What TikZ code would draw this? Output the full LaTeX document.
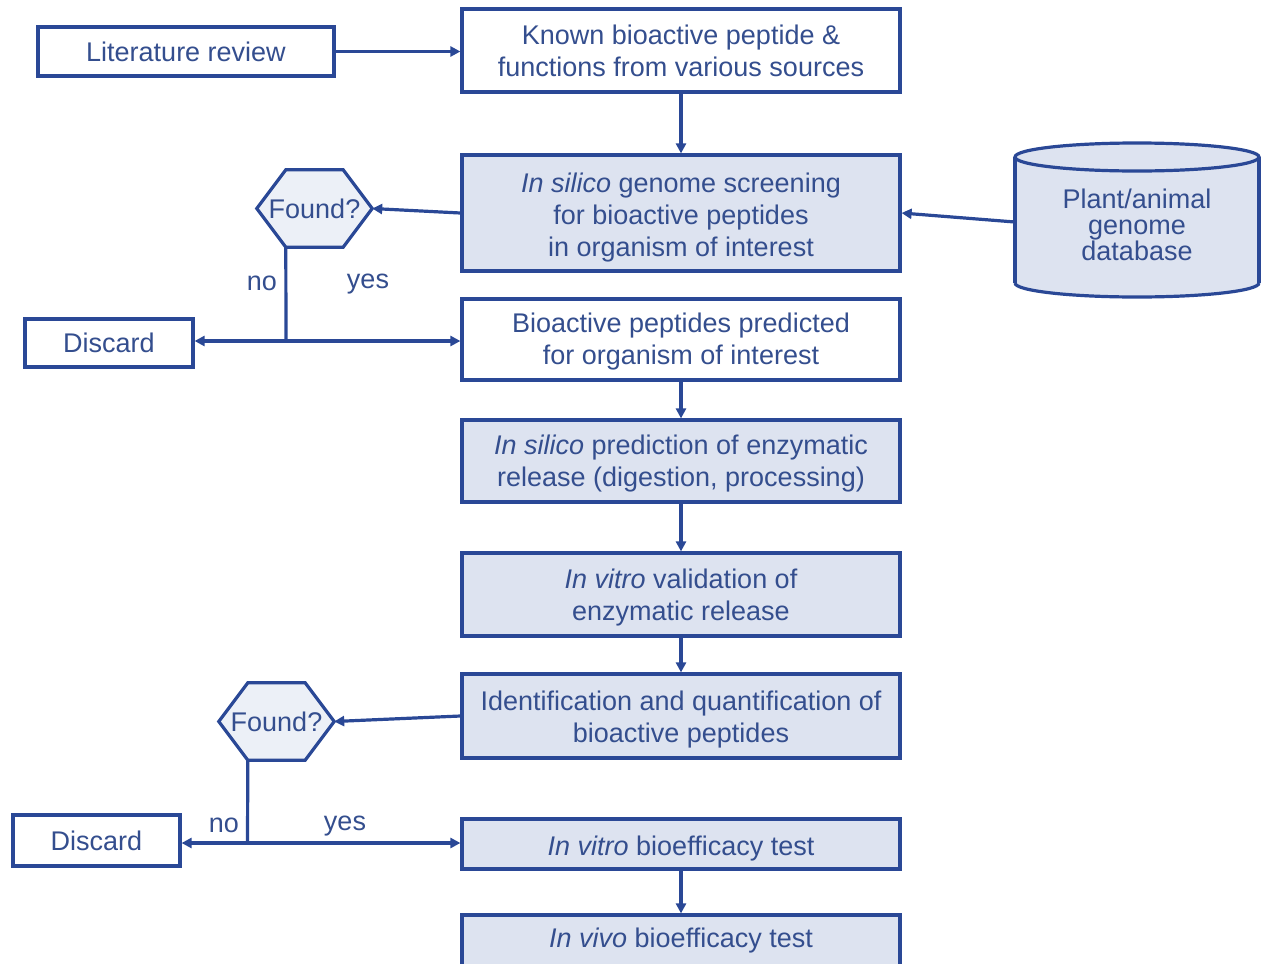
\documentclass[tikz,border=0pt]{standalone}
\usepackage{fontspec}
\setmainfont{Liberation Sans}
\usetikzlibrary{arrows.meta,backgrounds,calc}
\definecolor{bline}{RGB}{42,72,150}
\definecolor{bfill}{RGB}{221,227,240}
\definecolor{hfill}{RGB}{236,240,247}
\definecolor{btext}{RGB}{52,78,142}
\newcommand{\mylow}[2][29.6pt]{\begin{tabular}{@{}c@{}}\rule{0pt}{#1}#2\end{tabular}}
\begin{document}
\begin{tikzpicture}[x=1pt,y=-1pt,
  box/.style={draw=bline, line width=3.2pt, text=btext, fill=white,
    font=\fontsize{27}{32}\selectfont, align=center, inner sep=0pt},
  fbox/.style={box, fill=bfill},
  hexnode/.style={text=btext, font=\fontsize{27}{32}\selectfont, inner sep=0pt,
    minimum width=115pt, minimum height=77pt},
  hexline/.style={draw=bline, line width=3.2pt, fill=hfill, line join=miter},
  lab/.style={text=btext, font=\fontsize{27}{32}\selectfont, inner sep=0pt},
  conn/.style={draw=bline, line width=3.2pt},
  arr/.style={conn, -{Triangle[length=10pt,width=10pt]}}
]
\useasboundingbox (0,0) rectangle (1264,964);

% boxes
\node[box, minimum width=296pt, minimum height=49pt] (lit) at (186,51.5) {Literature review};
\node[box, minimum width=438pt, minimum height=83pt] (known) at (681,50.5) {Known bioactive peptide \&\\functions from various sources};
\node[fbox, minimum width=438pt, minimum height=116pt] (scr) at (681,213) {\mylow[32.6pt]{\textit{In silico} genome screening\\for bioactive peptides\\in organism of interest}};
\node[box, minimum width=438pt, minimum height=81pt] (pred) at (681,339.5) {\mylow[27.6pt]{Bioactive peptides predicted\\for organism of interest}};
\node[fbox, minimum width=438pt, minimum height=82pt] (pdig) at (681,461) {\mylow[28.6pt]{\textit{In silico} prediction of enzymatic\\release (digestion, processing)}};
\node[fbox, minimum width=438pt, minimum height=83pt] (vval) at (681,594.5) {\mylow{\textit{In vitro} validation of\\enzymatic release}};
\node[fbox, minimum width=438pt, minimum height=84pt] (ident) at (681,716) {\mylow{Identification and quantification of\\bioactive peptides}};
\node[fbox, minimum width=438pt, minimum height=50pt] (vbio) at (681,844) {\mylow[31.6pt]{\textit{In vitro} bioefficacy test}};
\node[fbox, minimum width=438pt, minimum height=51pt] (vivo) at (681,940.5) {\textit{In vivo} bioefficacy test};

\node[box, minimum width=168pt, minimum height=48pt] (d1) at (109,343) {Discard};
\node[box, minimum width=167pt, minimum height=51pt] (d2) at (96.5,840.5) {Discard};

% database cylinder
\fill[bfill] (1015,157) rectangle (1259,283);
\fill[bfill] (1137,283) ellipse[x radius=122pt, y radius=14pt];
\draw[conn] (1015,283) arc[start angle=180, end angle=360, x radius=122pt, y radius=14pt];
\draw[conn] (1015,157) -- (1015,283);
\draw[conn] (1259,157) -- (1259,283);
\draw[conn, fill=bfill] (1137,157) ellipse[x radius=122pt, y radius=14pt];
\node[text=btext, font=\fontsize{27}{26}\selectfont, align=center, inner sep=0pt,
  minimum width=244pt, minimum height=154pt] (db) at (1137,225) {Plant/animal\\genome\\database};

% decision hexagons
\node[hexnode] (f1) at (314.5,208.5) {Found?};
\node[hexnode] (f2) at (276.5,721.5) {Found?};
\begin{scope}[on background layer]
\draw[hexline] (f1.west) -- ($(f1.north west)+(29,0)$) -- ($(f1.north east)+(-29,0)$) -- (f1.east)
  -- ($(f1.south east)+(-29,0)$) -- ($(f1.south west)+(29,0)$) -- cycle;
\draw[hexline] (f2.west) -- ($(f2.north west)+(29,0)$) -- ($(f2.north east)+(-29,0)$) -- (f2.east)
  -- ($(f2.south east)+(-29,0)$) -- ($(f2.south west)+(29,0)$) -- cycle;
\end{scope}

\coordinate (j1) at (286,341);
\coordinate (j2) at (247.5,843);

% labels
\node[lab] (no1) at (262,283) {no};
\node[lab] (yes1) at (368,284) {yes};
\node[lab] (no2) at (224,825) {no};
\node[lab] (yes2) at (345,826) {yes};

% connectors
\draw[arr] (lit.east) -- (lit.east -| known.west);
\draw[arr] (known) -- (scr);
\draw[arr] (scr.west) -- (f1.east);
\draw[arr] ([yshift=3pt]db.west) -- (scr.east);
\draw[conn] ($(f1.south west)+(29,0)$) -- (j1);
\draw[arr] (j1) -- (j1 -| d1.east);
\draw[arr] (j1) -- (j1 -| pred.west);
\draw[arr] (pred) -- (pdig);
\draw[arr] (pdig) -- (vval);
\draw[arr] (vval) -- (ident);
\draw[arr] (ident.west) -- (f2.east);
\draw[conn] ($(f2.south west)+(29,0)$) -- (j2);
\draw[arr] (j2) -- (j2 -| d2.east);
\draw[arr] (j2) -- (j2 -| vbio.west);
\draw[arr] (vbio) -- (vivo);
\end{tikzpicture}
\end{document}
